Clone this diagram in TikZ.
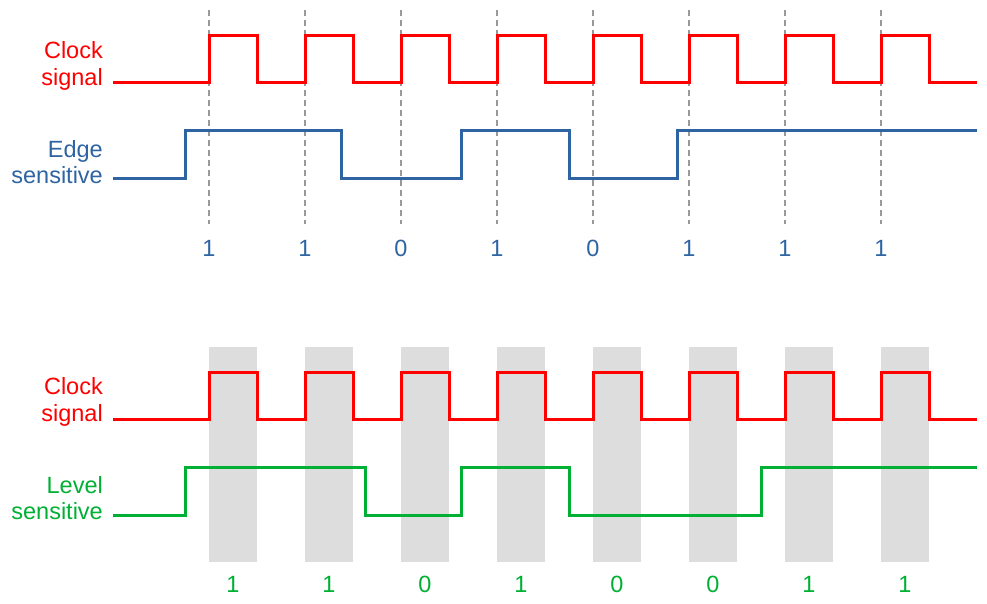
\documentclass[tikz,border=0pt]{standalone}
\usepackage{fontspec}
\setmainfont{Liberation Sans}
\definecolor{clk}{HTML}{FF0000}
\definecolor{edg}{HTML}{2E64A2}
\definecolor{lvl}{HTML}{00B034}
\definecolor{band}{HTML}{DDDDDD}
\definecolor{dash}{HTML}{999999}
\begin{document}
\begin{tikzpicture}[x=1pt,y=-1pt,
  sig/.style={line width=3pt,line join=miter},
  lbl/.style={font=\fontsize{23.5}{26.5}\selectfont,align=right,anchor=east,inner sep=0pt},
  bit/.style={font=\fontsize{23.5}{26}\selectfont,inner sep=0pt},
  guide/.style={draw=dash,line width=2.2pt,dash pattern=on 6pt off 4pt}]
\useasboundingbox (0,0) rectangle (987,604);
% gray bands (bottom)
\foreach \i in {0,...,7}{
  \fill[band] ({209+96*\i},347) rectangle ({257+96*\i},562);
}
% dashed guides (top)
\foreach \i in {0,...,7}{
  \draw[guide] ({209+96*\i},10) -- ({209+96*\i},224);
}
% top clock
\draw[sig,clk] (113,83) -- (209,83)
  \foreach \i in {0,...,7}{ -- ({209+96*\i},83) -- ({209+96*\i},36) -- ({257+96*\i},36) -- ({257+96*\i},83)} -- (977,83);
% edge sensitive
\draw[sig,edg] (113,179) -- (185,179) -- (185,131) -- (341,131) -- (341,179) -- (461,179) -- (461,131) -- (569,131) -- (569,179) -- (677,179) -- (677,131) -- (977,131);
% bottom clock
\draw[sig,clk] (113,419) -- (209,419)
  \foreach \i in {0,...,7}{ -- ({209+96*\i},419) -- ({209+96*\i},372) -- ({257+96*\i},372) -- ({257+96*\i},419)} -- (977,419);
% level sensitive
\draw[sig,lvl] (113,515) -- (185,515) -- (185,467) -- (365,467) -- (365,515) -- (461,515) -- (461,467) -- (569,467) -- (569,515) -- (761,515) -- (761,467) -- (977,467);
% labels
\node[lbl,text=clk] (clk1) at (103,66) {Clock\\signal};
\node[lbl,text=edg] (edgl) at (103,162) {Edge\\sensitive};
\node[lbl,text=clk] (clk2) at (103,402) {Clock\\signal};
\node[lbl,text=lvl] (lvll) at (103,498) {Level\\sensitive};
% bits
\foreach \b [count=\i from 0] in {1,1,0,1,0,1,1,1}{
  \node[bit,text=edg] (e\i) at ({209+96*\i},248) {\b};
}
\foreach \b [count=\i from 0] in {1,1,0,1,0,0,1,1}{
  \node[bit,text=lvl] (l\i) at ({233+96*\i},584) {\b};
}
\end{tikzpicture}
\end{document}
